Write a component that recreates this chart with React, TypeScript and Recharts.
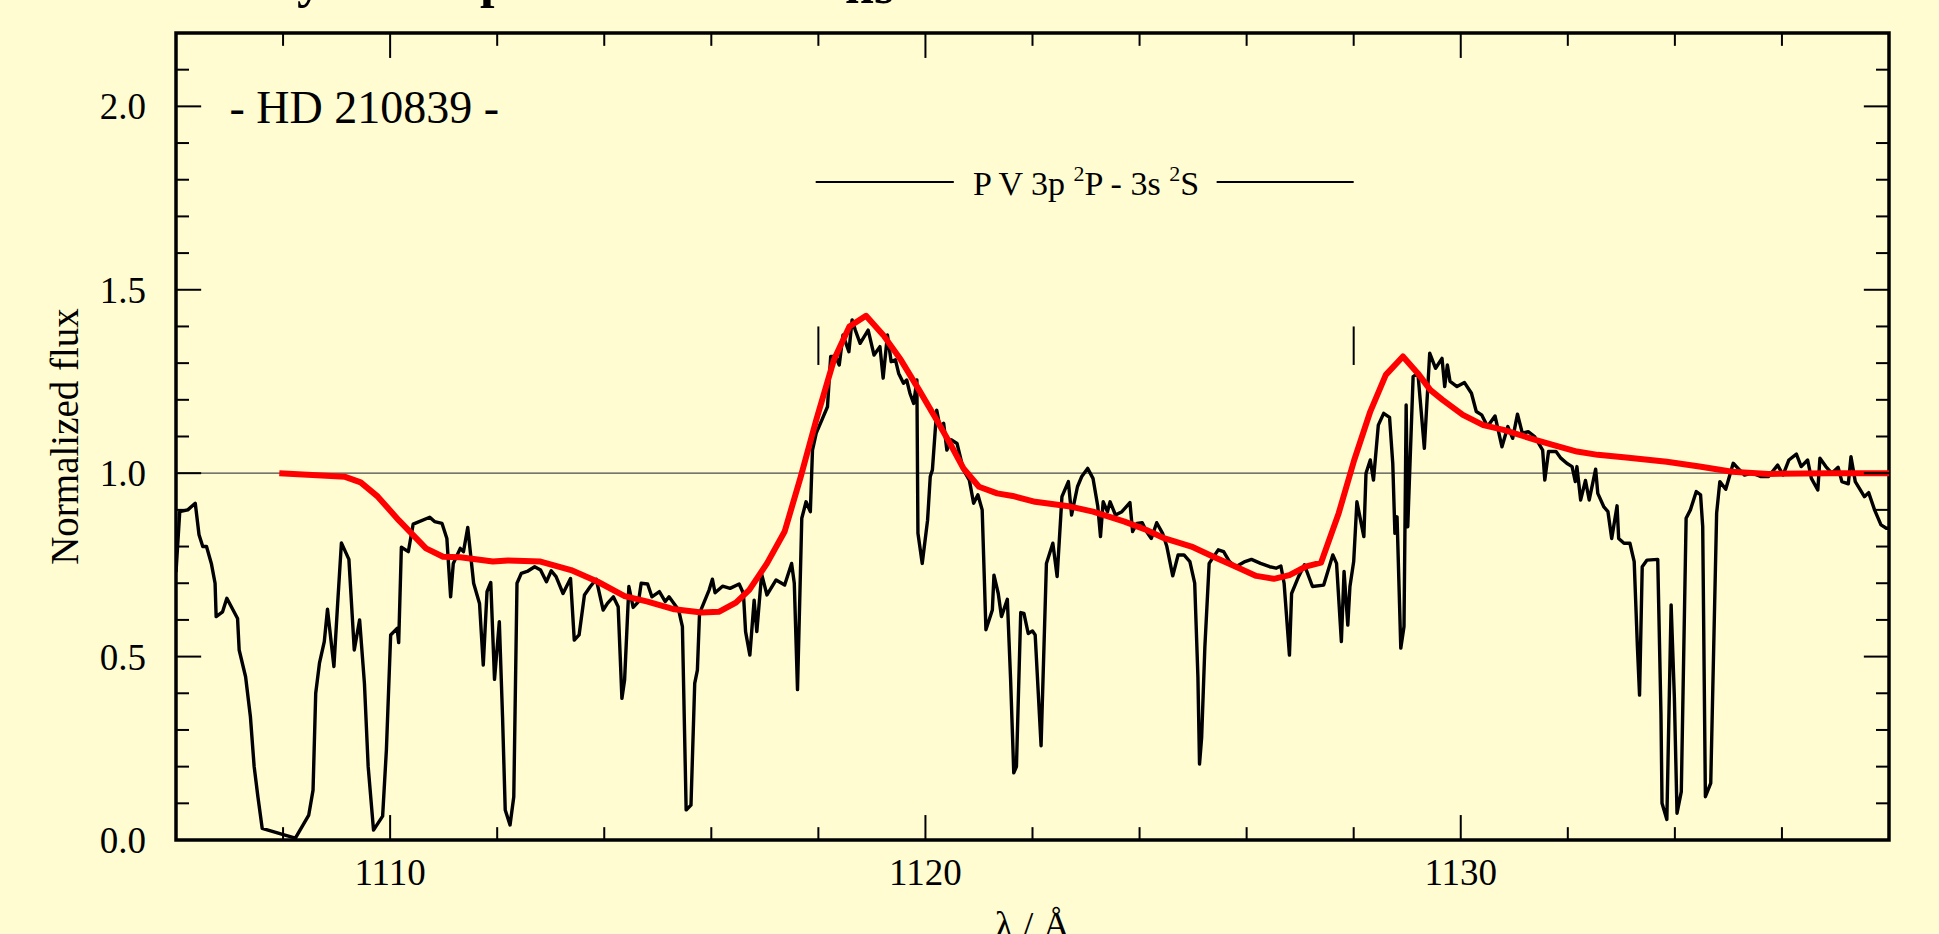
import { LineChart, Line, XAxis, YAxis, ReferenceLine, ReferenceArea, ReferenceDot } from "recharts";

const FONT = '"Liberation Serif", "Times New Roman", Times, serif';
const BG = "#fffcd2";

// observed spectrum (black)
const obsWave = [
  1106.0, 1106.07, 1106.22, 1106.36, 1106.43, 1106.5, 1106.57, 1106.66, 1106.73, 1106.75, 1106.87, 1106.95,
  1107.15, 1107.18, 1107.3, 1107.39, 1107.46, 1107.53, 1107.61, 1108.02, 1108.23, 1108.48, 1108.56, 1108.61,
  1108.68, 1108.77, 1108.83, 1108.95, 1109.02, 1109.09, 1109.23, 1109.33, 1109.43, 1109.52, 1109.59, 1109.69,
  1109.86, 1109.93, 1110.01, 1110.13, 1110.16, 1110.21, 1110.34, 1110.43, 1110.74, 1110.83, 1110.97, 1111.06,
  1111.13, 1111.18, 1111.31, 1111.37, 1111.45, 1111.56, 1111.67, 1111.74, 1111.81, 1111.88, 1111.95, 1112.04,
  1112.1, 1112.15, 1112.24, 1112.31, 1112.37, 1112.45, 1112.56, 1112.7, 1112.81, 1112.92, 1113.01, 1113.1,
  1113.23, 1113.37, 1113.44, 1113.53, 1113.63, 1113.74, 1113.85, 1113.98, 1114.06, 1114.17, 1114.26, 1114.33,
  1114.38, 1114.46, 1114.54, 1114.64, 1114.69, 1114.81, 1114.89, 1115.03, 1115.14, 1115.21, 1115.39, 1115.46,
  1115.53, 1115.62, 1115.69, 1115.74, 1115.78, 1115.96, 1116.02, 1116.07, 1116.21, 1116.35, 1116.52, 1116.6,
  1116.64, 1116.72, 1116.8, 1116.85, 1116.94, 1117.04, 1117.21, 1117.37, 1117.5, 1117.55, 1117.61, 1117.69,
  1117.77, 1117.85, 1117.89, 1117.96, 1118.08, 1118.17, 1118.23, 1118.32, 1118.39, 1118.46, 1118.57, 1118.63,
  1118.69, 1118.78, 1118.93, 1119.04, 1119.15, 1119.21, 1119.29, 1119.36, 1119.44, 1119.5, 1119.59, 1119.65,
  1119.71, 1119.78, 1119.84, 1119.86, 1119.94, 1120.04, 1120.09, 1120.13, 1120.21, 1120.27, 1120.34, 1120.4,
  1120.48, 1120.59, 1120.71, 1120.82, 1120.9, 1120.98, 1121.06, 1121.13, 1121.25, 1121.28, 1121.36, 1121.42,
  1121.53, 1121.59, 1121.65, 1121.7, 1121.78, 1121.84, 1121.92, 1122.0, 1122.05, 1122.16, 1122.26, 1122.38,
  1122.46, 1122.55, 1122.67, 1122.73, 1122.84, 1122.92, 1123.03, 1123.13, 1123.22, 1123.27, 1123.32, 1123.4,
  1123.45, 1123.55, 1123.67, 1123.82, 1123.87, 1123.95, 1124.05, 1124.13, 1124.22, 1124.32, 1124.43, 1124.51,
  1124.62, 1124.72, 1124.83, 1124.94, 1125.03, 1125.09, 1125.12, 1125.16, 1125.22, 1125.3, 1125.47, 1125.57,
  1125.68, 1125.8, 1125.97, 1126.09, 1126.26, 1126.43, 1126.55, 1126.64, 1126.7, 1126.8, 1126.84, 1126.97,
  1127.08, 1127.23, 1127.44, 1127.61, 1127.68, 1127.77, 1127.82, 1127.89, 1127.93, 1128.0, 1128.06, 1128.19,
  1128.23, 1128.31, 1128.37, 1128.46, 1128.56, 1128.67, 1128.73, 1128.77, 1128.81, 1128.88, 1128.94, 1128.98,
  1129.01, 1129.11, 1129.2, 1129.32, 1129.42, 1129.53, 1129.65, 1129.7, 1129.75, 1129.8, 1129.93, 1130.07,
  1130.2, 1130.29, 1130.39, 1130.5, 1130.64, 1130.77, 1130.88, 1130.97, 1131.06, 1131.15, 1131.26, 1131.38,
  1131.53, 1131.57, 1131.64, 1131.78, 1131.87, 1131.98, 1132.08, 1132.14, 1132.17, 1132.24, 1132.33, 1132.4,
  1132.52, 1132.56, 1132.67, 1132.75, 1132.82, 1132.92, 1132.95, 1133.05, 1133.16, 1133.24, 1133.3, 1133.34,
  1133.39, 1133.48, 1133.68, 1133.74, 1133.76, 1133.85, 1133.93, 1133.99, 1134.04, 1134.12, 1134.21, 1134.29,
  1134.4, 1134.48, 1134.52, 1134.57, 1134.67, 1134.78, 1134.84, 1134.95, 1135.09, 1135.18, 1135.3, 1135.45,
  1135.6, 1135.75, 1135.92, 1136.02, 1136.13, 1136.27, 1136.36, 1136.48, 1136.55, 1136.67, 1136.71, 1136.82,
  1136.93, 1137.05, 1137.12, 1137.24, 1137.29, 1137.37, 1137.54, 1137.62, 1137.73, 1137.85, 1137.95, 1138.0,
];
const obsFlux = [
  0.73, 0.895, 0.9, 0.918, 0.832, 0.8, 0.8, 0.754, 0.7, 0.609, 0.622, 0.659,
  0.604, 0.518, 0.445, 0.336, 0.2, 0.118, 0.032, 0.014, 0.005, 0.068, 0.136, 0.4,
  0.482, 0.541, 0.629, 0.473, 0.645, 0.81, 0.765, 0.518, 0.6, 0.427, 0.2, 0.027,
  0.065, 0.245, 0.559, 0.577, 0.538, 0.798, 0.786, 0.861, 0.88, 0.868, 0.863, 0.822,
  0.663, 0.754, 0.795, 0.786, 0.852, 0.7, 0.645, 0.477, 0.677, 0.702, 0.438, 0.595,
  0.336, 0.082, 0.041, 0.118, 0.7, 0.727, 0.732, 0.745, 0.736, 0.704, 0.734, 0.718,
  0.672, 0.713, 0.545, 0.559, 0.668, 0.691, 0.711, 0.627, 0.645, 0.663, 0.636, 0.386,
  0.436, 0.691, 0.634, 0.65, 0.7, 0.698, 0.663, 0.677, 0.65, 0.663, 0.627, 0.582,
  0.082, 0.095, 0.427, 0.463, 0.618, 0.682, 0.711, 0.674, 0.692, 0.686, 0.698, 0.672,
  0.568, 0.504, 0.654, 0.568, 0.725, 0.668, 0.709, 0.695, 0.754, 0.7, 0.41, 0.877,
  0.922, 0.895, 1.063, 1.109, 1.15, 1.181, 1.318, 1.318, 1.295, 1.377, 1.331, 1.418,
  1.39, 1.354, 1.39, 1.322, 1.345, 1.259, 1.377, 1.304, 1.309, 1.272, 1.245, 1.254,
  1.218, 1.19, 1.254, 0.836, 0.754, 0.872, 0.991, 1.009, 1.172, 1.127, 1.136, 1.063,
  1.091, 1.081, 1.009, 0.981, 0.918, 0.941, 0.9, 0.573, 0.627, 0.722, 0.672, 0.609,
  0.656, 0.441, 0.183, 0.2, 0.62, 0.618, 0.563, 0.57, 0.559, 0.257, 0.754, 0.809,
  0.718, 0.936, 0.977, 0.886, 0.963, 0.991, 1.013, 0.986, 0.909, 0.827, 0.922, 0.895,
  0.922, 0.886, 0.895, 0.92, 0.841, 0.863, 0.865, 0.841, 0.822, 0.865, 0.836, 0.8,
  0.72, 0.777, 0.777, 0.759, 0.7, 0.445, 0.207, 0.28, 0.527, 0.754, 0.791, 0.786,
  0.759, 0.745, 0.759, 0.765, 0.754, 0.745, 0.741, 0.747, 0.7, 0.504, 0.672, 0.718,
  0.75, 0.691, 0.695, 0.777, 0.754, 0.541, 0.732, 0.586, 0.691, 0.759, 0.922, 0.827,
  1.0, 1.036, 0.981, 1.131, 1.163, 1.152, 1.027, 0.836, 0.881, 0.523, 0.582, 1.186,
  0.854, 1.263, 1.272, 1.068, 1.327, 1.286, 1.313, 1.236, 1.295, 1.25, 1.236, 1.247,
  1.218, 1.168, 1.159, 1.127, 1.156, 1.072, 1.127, 1.095, 1.161, 1.109, 1.113, 1.1,
  1.063, 0.981, 1.059, 1.059, 1.041, 1.027, 1.018, 0.977, 1.018, 0.927, 0.98, 0.927,
  1.011, 0.945, 0.909, 0.895, 0.822, 0.911, 0.822, 0.809, 0.809, 0.759, 0.527, 0.395,
  0.745, 0.763, 0.765, 0.345, 0.1, 0.056, 0.641, 0.391, 0.073, 0.132, 0.877, 0.9,
  0.95, 0.941, 0.854, 0.118, 0.155, 0.891, 0.977, 0.956, 1.027, 1.013, 0.995, 1.0,
  0.991, 0.991, 1.022, 0.995, 1.036, 1.052, 1.018, 1.036, 0.986, 0.954, 1.041, 1.018,
  1.0, 1.016, 0.977, 0.971, 1.045, 0.977, 0.936, 0.947, 0.9, 0.859, 0.85, 0.85,
];

// model spectrum (red)
const modelWave = [
  1107.93, 1109.16, 1109.45, 1109.77, 1110.16, 1110.67, 1110.99, 1111.31, 1111.92, 1112.2, 1112.81, 1113.38,
  1113.88, 1114.38, 1114.81, 1115.31, 1115.82, 1116.14, 1116.46, 1116.71, 1117.04, 1117.37, 1117.67, 1117.96,
  1118.29, 1118.58, 1118.89, 1119.21, 1119.54, 1119.88, 1120.21, 1120.46, 1120.71, 1121.0, 1121.34, 1121.63,
  1122.05, 1122.71, 1123.13, 1123.72, 1124.13, 1124.47, 1124.97, 1125.38, 1125.8, 1126.18, 1126.51, 1126.8,
  1127.1, 1127.39, 1127.72, 1128.01, 1128.31, 1128.6, 1128.92, 1129.2, 1129.43, 1129.66, 1130.04, 1130.42,
  1130.8, 1131.41, 1131.72, 1132.17, 1132.56, 1133.09, 1133.85, 1134.46, 1135.07, 1135.75, 1136.9, 1138.0,
];
const modelFlux = [
  1.0, 0.99, 0.975, 0.936, 0.872, 0.795, 0.772, 0.771, 0.759, 0.762, 0.759, 0.736,
  0.704, 0.665, 0.65, 0.629, 0.62, 0.622, 0.647, 0.682, 0.754, 0.841, 0.99, 1.145,
  1.309, 1.4, 1.429, 1.377, 1.309, 1.227, 1.145, 1.081, 1.013, 0.963, 0.945, 0.938,
  0.922, 0.909, 0.895, 0.868, 0.845, 0.822, 0.8, 0.772, 0.745, 0.72, 0.712, 0.722,
  0.745, 0.756, 0.891, 1.036, 1.168, 1.268, 1.318, 1.272, 1.227, 1.2, 1.159, 1.131,
  1.118, 1.09, 1.077, 1.059, 1.05, 1.043, 1.031, 1.018, 1.004, 0.998, 1.0, 1.0,
];

const xMajor = [1110, 1120, 1130];
const xMinor = [1108, 1112, 1114, 1116, 1118, 1122, 1124, 1126, 1128, 1132, 1134, 1136];
const yMajor = [0, 0.5, 1.0, 1.5, 2.0];
const yMinor = [0.1, 0.2, 0.3, 0.4, 0.6, 0.7, 0.8, 0.9, 1.1, 1.2, 1.3, 1.4, 1.6, 1.7, 1.8, 1.9, 2.1];

// doublet rest wavelengths marked above the profile
const doublet = [1118.0, 1128.0];

const X0 = 1106;
const X1 = 1138;
const Y0 = 0;
const Y1 = 2.2;

const obsData = obsWave.map((wl, i) => ({ wl, flux: obsFlux[i] }));
const modelData = modelWave.map((wl, i) => ({ wl, flux: modelFlux[i] }));

const textAt =
  (body: React.ReactNode, opts: { size: number; anchor?: string; dy?: number; dx?: number }) =>
  (p: any) => {
    const vb = p.viewBox || {};
    return (
      <text
        x={vb.x + (opts.dx || 0)}
        y={vb.y + (opts.dy || 0)}
        textAnchor={opts.anchor || "start"}
        fontFamily={FONT}
        style={{ fontFamily: FONT }}
        fontSize={opts.size}
        fill="#000"
      >
        {body}
      </text>
    );
  };

const tickStroke = { stroke: "#000", strokeWidth: 2 };

const App = () => {
  // tick lengths in data units (25px major, 13px minor)
  const xLenMaj = 0.068;
  const xLenMin = 0.035;
  const yLenMaj = 0.47;
  const yLenMin = 0.243;

  return (
    <div style={{ position: "fixed", left: 0, top: 0, width: 1939, height: 934, background: BG, overflow: "hidden" }}>
      {/* slide title, cut off at the top edge */}
      <svg width={1939} height={40} style={{ position: "absolute", left: 0, top: 0 }}>
        <g fontFamily={FONT} fontWeight="bold" fill="#000">
          <text x={297} y={-3} fontSize={52}>y</text>
          <text x={480} y={-3} fontSize={52}>p</text>
          <text x={845} y={3} fontSize={52}>ns</text>
        </g>
      </svg>
      <LineChart width={1939} height={934} margin={{ top: 33, right: 50, bottom: 0, left: 0 }} style={{ position: "absolute", left: 0, top: 0 }}>
        <XAxis
          type="number"
          dataKey="wl"
          domain={[X0, X1]}
          allowDataOverflow
          ticks={xMajor}
          interval={0}
          height={94}
          tickSize={0}
          tickMargin={19}
          tickLine={false}
          axisLine={false}
          tick={{ fontSize: 37, fill: "#000", fontFamily: FONT }}
          label={{
            content: (p: any) => {
              const vb = p.viewBox;
              return (
                <text x={vb.x + vb.width / 2} y={vb.y + 98} textAnchor="middle" fontFamily={FONT} fontSize={38} fill="#000">
                  λ / Å
                </text>
              );
            },
          }}
        />
        <YAxis
          type="number"
          domain={[Y0, Y1]}
          allowDataOverflow
          ticks={yMajor}
          interval={0}
          width={176}
          tickSize={0}
          tickMargin={30}
          tickLine={false}
          axisLine={false}
          tickFormatter={(v: number) => v.toFixed(1)}
          tick={{ fontSize: 37, fill: "#000", fontFamily: FONT }}
          label={{
            content: (p: any) => {
              const vb = p.viewBox;
              const cy = vb.y + vb.height / 2;
              return (
                <text x={78} y={cy} transform={`rotate(-90, 78, ${cy})`} textAnchor="middle" fontFamily={FONT} fontSize={39} fill="#000">
                  Normalized flux
                </text>
              );
            },
          }}
        />

        <ReferenceLine y={1} stroke="#4a4a4a" strokeWidth={1.2} />

        <Line data={obsData} dataKey="flux" type="linear" stroke="#000" strokeWidth={3.4} dot={false} strokeLinejoin="round" isAnimationActive={false} />
        <Line data={modelData} dataKey="flux" type="linear" stroke="#ff0000" strokeWidth={6} dot={false} strokeLinejoin="round" isAnimationActive={false} />

        {/* annotation bracket */}
        <ReferenceLine segment={[{ x: 1117.95, y: 1.794 }, { x: 1120.53, y: 1.794 }]} stroke="#000" strokeWidth={2} />
        <ReferenceLine segment={[{ x: 1125.44, y: 1.794 }, { x: 1128.0, y: 1.794 }]} stroke="#000" strokeWidth={2} />
        {doublet.map((w) => (
          <ReferenceLine key={`d${w}`} segment={[{ x: w, y: 1.295 }, { x: w, y: 1.4 }]} stroke="#000" strokeWidth={2} />
        ))}
        <ReferenceDot
          x={1123}
          y={1.794}
          r={0}
          fill="none"
          stroke="none"
          label={{
            content: textAt(
              <>
                P V 3p <tspan fontSize={22} dy={-14}>2</tspan>
                <tspan dy={14}>P - 3s </tspan>
                <tspan fontSize={22} dy={-14}>2</tspan>
                <tspan dy={14}>S</tspan>
              </>,
              { size: 34, anchor: "middle", dy: 13 }
            ),
          }}
        />
        <ReferenceDot
          x={1107.0}
          y={1.955}
          r={0}
          fill="none"
          stroke="none"
          label={{ content: textAt("- HD 210839 -", { size: 46 }) }}
        />

        {/* inward ticks on all four sides */}
        {[...xMajor, ...xMinor].map((t) => {
          const len = xMajor.includes(t) ? xLenMaj : xLenMin;
          return [
            <ReferenceLine key={`xb${t}`} segment={[{ x: t, y: Y0 }, { x: t, y: Y0 + len }]} {...tickStroke} />,
            <ReferenceLine key={`xt${t}`} segment={[{ x: t, y: Y1 }, { x: t, y: Y1 - len }]} {...tickStroke} />,
          ];
        })}
        {[...yMajor.filter((v) => v > 0), ...yMinor].map((t) => {
          const len = yMajor.includes(t) ? yLenMaj : yLenMin;
          return [
            <ReferenceLine key={`yl${t}`} segment={[{ x: X0, y: t }, { x: X0 + len, y: t }]} {...tickStroke} />,
            <ReferenceLine key={`yr${t}`} segment={[{ x: X1, y: t }, { x: X1 - len, y: t }]} {...tickStroke} />,
          ];
        })}

        <ReferenceArea x1={X0} x2={X1} y1={Y0} y2={Y1} fill="none" fillOpacity={0} stroke="#000" strokeWidth={3.5} />
      </LineChart>
    </div>
  );
};

export default App;
